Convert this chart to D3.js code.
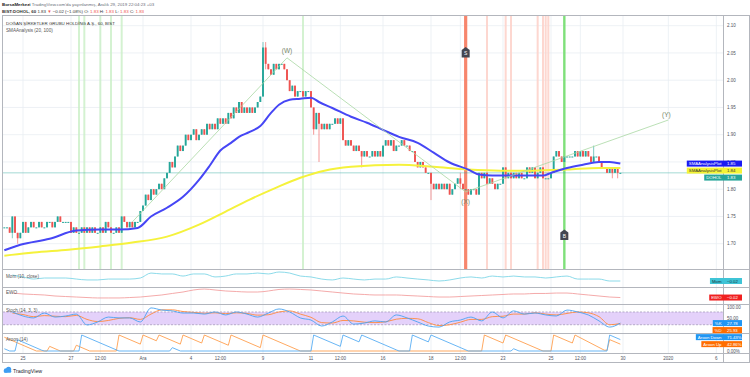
<!DOCTYPE html>
<html>
<head>
<meta charset="utf-8">
<script src="https://cdn.jsdelivr.net/npm/d3@7"></script>
<style>
  body { margin: 0; background: #fff; }
  svg { display: block; font-family: "Liberation Sans", Arial, sans-serif; }
</style>
</head>
<body>
<div id="chart"></div>
<script>
//BIST:DOHOL 60 min closes, 22 Nov - 27 Dec 2019 (9 bars a session)
const firstOpen = 1.73;
const closes = [
  1.73, 1.73, 1.72, 1.75, 1.72, 1.71, 1.72,                 // 22 Nov
  1.74, 1.72, 1.73, 1.74, 1.73, 1.73, 1.74, 1.73, 1.73,     // 25
  1.74, 1.74, 1.73, 1.74, 1.75, 1.74, 1.74, 1.74, 1.74,     // 26
  1.72, 1.73, 1.72, 1.72, 1.73, 1.72, 1.73, 1.72, 1.73,     // 27
  1.72, 1.72, 1.73, 1.72, 1.74, 1.73, 1.72, 1.72, 1.73,     // 28
  1.72, 1.75, 1.74, 1.73, 1.74, 1.73, 1.74, 1.74, 1.76,     // 29
  1.77, 1.79, 1.78, 1.80, 1.79, 1.80, 1.81, 1.80, 1.82,     // 2 Dec
  1.83, 1.85, 1.84, 1.86, 1.88, 1.87, 1.88, 1.90, 1.89,     // 3
  1.90, 1.91, 1.89, 1.90, 1.91, 1.90, 1.92, 1.91, 1.92,     // 4
  1.91, 1.93, 1.92, 1.93, 1.92, 1.94, 1.93, 1.95, 1.94,     // 5
  1.96, 1.94, 1.95, 1.94, 1.95, 1.94, 1.95, 1.96, 1.97,     // 6
  2.06, 2.03, 2.02, 2.01, 2.03, 2.02, 2.03, 2.03, 2.02,     // 9
  2.00, 1.98, 1.99, 1.97, 1.98, 1.98, 1.97, 1.98, 1.98,     // 10
  1.95, 1.91, 1.94, 1.92, 1.91, 1.92, 1.91, 1.92, 1.92,     // 11
  1.93, 1.92, 1.93, 1.89, 1.88, 1.89, 1.88, 1.87, 1.88,     // 12
  1.87, 1.86, 1.87, 1.86, 1.86, 1.87, 1.86, 1.87, 1.86,     // 13
  1.88, 1.89, 1.88, 1.89, 1.87, 1.88, 1.88, 1.89, 1.88,     // 16
  1.88, 1.87, 1.87, 1.85, 1.84, 1.85, 1.84, 1.83, 1.83,     // 17
  1.81, 1.80, 1.81, 1.80, 1.81, 1.80, 1.81, 1.79, 1.80,     // 18
  1.81, 1.82, 1.81, 1.80, 1.80, 1.79, 1.80, 1.80, 1.79,     // 19
  1.83, 1.82, 1.83, 1.81, 1.82, 1.81, 1.80, 1.81, 1.81,     // 20
  1.84, 1.82, 1.83, 1.82, 1.83, 1.82, 1.83, 1.82, 1.82,     // 23
  1.84, 1.83, 1.84, 1.82, 1.83, 1.84, 1.82, 1.82, 1.82,     // 24
  1.83, 1.86, 1.87, 1.86, 1.85, 1.86, 1.86, 1.86, 1.86,     // 25
  1.87, 1.86, 1.87, 1.86, 1.87, 1.86, 1.85, 1.86, 1.86,     // 26
  1.85, 1.84, 1.84, 1.83, 1.84, 1.83, 1.84, 1.83, 1.83      // 27
];

//bars with visible wicks
const wickBars  = [3, 5, 97, 98, 116, 118, 134, 160, 171, 221, 228, 230];
const wickHighs = [1.75, 1.72, 2.07, 2.07, 1.95, 1.94, 1.87, 1.83, 1.83, 1.88, 1.84, 1.84];
const wickLows  = [1.71, 1.70, 1.97, 2.02, 1.90, 1.85, 1.84, 1.78, 1.80, 1.85, 1.82, 1.82];

//SMAAnalysis (20, 100)
const smaFastBars = [0, 6, 17, 27, 36, 43, 50, 55, 61, 67, 73, 77, 81, 85, 88, 92, 96, 100, 103, 107, 111, 115, 118, 123, 130, 136, 142, 148, 155, 161, 167, 174, 178, 183, 190, 196, 202, 205, 211, 217, 223, 227, 231];
const smaFastVals = [1.688, 1.698, 1.709, 1.724, 1.726, 1.726, 1.729, 1.750, 1.766, 1.786, 1.817, 1.843, 1.871, 1.885, 1.896, 1.905, 1.916, 1.940, 1.955, 1.964, 1.966, 1.968, 1.960, 1.949, 1.933, 1.922, 1.909, 1.896, 1.885, 1.867, 1.849, 1.836, 1.827, 1.825, 1.825, 1.825, 1.825, 1.830, 1.839, 1.845, 1.850, 1.850, 1.847];
const smaSlowBars = [0, 11, 24, 36, 48, 61, 73, 83, 92, 102, 111, 120, 130, 148, 161, 174, 186, 198, 211, 223, 231];
const smaSlowVals = [1.678, 1.684, 1.689, 1.695, 1.702, 1.713, 1.735, 1.759, 1.781, 1.803, 1.821, 1.834, 1.841, 1.845, 1.841, 1.836, 1.834, 1.834, 1.836, 1.839, 1.839];

//background highlights (bar index)
const softGreenBars = [28, 30, 36, 40, 44, 112];
const softRedBars = [181, 188, 190, 200, 202, 203, 204];
const strongRedBar = 173;
const strongGreenBar = 210;
const markerBars = [173, 210];
const markerPrices = [2.051, 1.716];

//elliott wave drawing
const waveBars = [48, 106, 173, 249];
const wavePrices = [1.74, 2.041, 1.795, 1.927];
const waveLabels = ["", "(W)", "(X)", "(Y)"];

//x axis
const tickLabels = ["25", "27", "12:00", "Ara", "4", "12:00", "9", "11", "12:00", "16", "18", "12:00", "23", "25", "12:00", "30", "2020", "6"];
const tickBars = [7, 25, 36, 52, 70, 81, 97, 115, 126, 142, 160, 171, 187, 205, 216, 232, 249, 267];
const priceTicks = [1.70, 1.75, 1.80, 1.85, 1.90, 1.95, 2.00, 2.05, 2.10];

//oscillators, sampled every 4 bars from bar 3
const oscStart = 3, oscStep = 4;
const momVals = [0.020, 0.007, -0.007, 0, 0, 0, -0.007, -0.013, -0.013, -0.007, -0.007, -0.007, 0, 0.033, 0.027, 0.027, 0.013, 0.027, 0.027, 0.007, 0.013, 0.027, 0.027, 0.033, 0.027, 0.040, 0.033, 0.013, 0.007, -0.007, -0.013, 0, -0.007, -0.013, -0.007, -0.007, 0.007, 0, -0.007, -0.013, -0.020, -0.013, 0, 0.007, 0, 0.013, 0.007, 0.013, 0.007, 0.007, 0, 0.007, 0.013, -0.007, -0.007, -0.007, -0.020, -0.020];
const ewoVals = [0.029, 0.018, 0.012, 0.006, -0.006, -0.012, -0.018, -0.024, -0.029, -0.029, -0.029, -0.024, -0.018, -0.006, 0.006, 0.024, 0.041, 0.065, 0.076, 0.065, 0.053, 0.047, 0.041, 0.041, 0.053, 0.071, 0.076, 0.071, 0.065, 0.053, 0.041, 0.029, 0.018, 0.012, 0.006, 0.006, 0.006, 0, -0.006, -0.012, -0.018, -0.018, -0.012, -0.006, 0, 0.006, 0.012, 0.018, 0.018, 0.024, 0.024, 0.029, 0.029, 0.018, 0.006, -0.006, -0.018, -0.024];
const stochK = [80, 61, 52, 75, 56, 61, 70, 19, 33, 56, 52, 52, 33, 99, 89, 85, 75, 75, 70, 80, 66, 80, 70, 56, 75, 94, 80, 52, 42, 14, 33, 61, 23, 28, 38, 33, 66, 52, 33, 14, 9, 33, 42, 56, 38, 80, 52, 85, 70, 75, 66, 61, 89, 80, 66, 38, 9, 27.78];
const stochD = [75, 68, 58, 63, 60, 58, 64, 45, 35, 40, 50, 53, 45, 70, 90, 90, 82, 78, 74, 76, 72, 76, 73, 65, 67, 80, 85, 70, 55, 30, 28, 40, 38, 32, 30, 34, 46, 50, 48, 30, 16, 20, 32, 45, 45, 58, 60, 70, 70, 76, 70, 66, 73, 80, 76, 58, 20, 25.93];

//aroon (14) breakpoints
const aroonUpBars = [0, 12, 16, 17, 21, 26, 27, 32, 42, 43, 51, 52, 57, 58, 66, 67, 74, 75, 84, 85, 96, 97, 111, 179, 180, 187, 188, 201, 202, 205, 206, 213, 214, 225, 226, 227, 231];
const aroonUpVals = [86, 0, 0, 29, 0, 0, 36, 0, 0, 100, 43, 100, 64, 100, 43, 100, 50, 100, 36, 100, 21, 100, 0, 0, 100, 50, 100, 7, 0, 0, 100, 50, 100, 5, 5, 71, 42.86];
const aroonDownBars = [0, 2, 4, 5, 14, 15, 28, 29, 42, 43, 62, 63, 66, 115, 116, 126, 127, 133, 134, 147, 148, 152, 153, 159, 160, 174, 190, 191, 193, 226, 227, 231];
const aroonDownVals = [14, 0, 0, 70, 5, 0, 0, 100, 7, 0, 0, 21, 0, 0, 100, 29, 100, 57, 100, 7, 0, 0, 100, 57, 100, 0, 0, 14, 0, 0, 100, 71.43];

//right-side value tags
const priceTagNames = ["SMAAnalysisPlot", "SMAAnalysisPlot", "DOHOL"];
const priceTagVals = [1.847, 1.839, 1.83];
const priceTagText = ["1.85", "1.84", "1.83"];
const priceTagBg = ["#1b1bf2", "#f4f436", "#26a69a"];
const priceTagFg = ["#fff", "#333", "#fff"];

const green = "#26a69a", red = "#ef5350";

const svg = d3.select("#chart").append("svg")
    .attr("width", 750)
    .attr("height", 377);

const left = 3, axisX = 723.5, right = 749.5;
const mainTop = 16, mainBot = 269, momBot = 287, ewoBot = 304, stBot = 333, arBot = 353, frameBot = 362.5;

const x = d3.scaleLinear().domain([-0.5, 269.5]).range([left, 723]);
const bw = x(1) - x(0);
const y = d3.scaleLinear().domain([1.70, 2.10]).range([243.7, 25.7]);
const yMom = d3.scaleLinear().domain([-0.06, 0.06]).range([287, 269]);
const yEwo = d3.scaleLinear().domain([-0.1, 0.1]).range([304, 287]);
const ySt = d3.scaleLinear().domain([0, 100]).range([329, 307.7]);
const yAr = d3.scaleLinear().domain([0, 100]).range([351, 335]);

//clip each pane
const defs = svg.append("defs");
function clip(id, y0, y1) {
    defs.append("clipPath").attr("id", id)
        .append("rect").attr("x", left).attr("y", y0).attr("width", axisX - left).attr("height", y1 - y0);
    return "url(#" + id + ")";
}
const cMain = clip("cmain", mainTop, mainBot);
const cMom = clip("cmom", mainBot, momBot);
const cEwo = clip("cewo", momBot, ewoBot);
const cSt = clip("cst", ewoBot, stBot);
const cAr = clip("car", stBot, arBot);

//grid
const grid = svg.append("g");
grid.selectAll("line.gv").data(tickBars).join("line").attr("class", "gv")
    .attr("x1", d => x(d)).attr("x2", d => x(d))
    .attr("y1", mainTop).attr("y2", arBot)
    .attr("stroke", "#e9edf3").attr("stroke-width", 0.8);
grid.selectAll("line.gh").data(priceTicks).join("line").attr("class", "gh")
    .attr("x1", left).attr("x2", axisX)
    .attr("y1", d => y(d)).attr("y2", d => y(d))
    .attr("stroke", "#e9edf3").attr("stroke-width", 0.8);

//main pane
const main = svg.append("g").attr("clip-path", cMain);

main.selectAll("rect.sg").data(softGreenBars).join("rect").attr("class", "sg")
    .attr("x", d => x(d) - 1).attr("width", 2)
    .attr("y", mainTop).attr("height", mainBot - mainTop)
    .attr("fill", "#c9efc6").attr("opacity", 0.8);
main.selectAll("rect.sr").data(softRedBars).join("rect").attr("class", "sr")
    .attr("x", d => x(d) - 1).attr("width", 2)
    .attr("y", mainTop).attr("height", mainBot - mainTop)
    .attr("fill", "#fdd3cb").attr("opacity", 0.9);
main.append("rect")
    .attr("x", x(strongRedBar) - 1.6).attr("width", 3.2)
    .attr("y", mainTop).attr("height", mainBot - mainTop)
    .attr("fill", "#f7866d");
main.append("rect")
    .attr("x", x(strongGreenBar) - 1.2).attr("width", 2.4)
    .attr("y", mainTop).attr("height", mainBot - mainTop)
    .attr("fill", "#7fe07a");

//last price line
main.append("line")
    .attr("x1", left).attr("x2", axisX)
    .attr("y1", y(closes[closes.length - 1])).attr("y2", y(closes[closes.length - 1]))
    .attr("stroke", green).attr("stroke-width", 0.7).attr("opacity", 0.6);

//candles
const candles = closes.map((c, i) => {
    const o = i === 0 ? firstOpen : closes[i - 1];
    const k = wickBars.indexOf(i);
    return {
        i: i, o: o, c: c,
        h: k >= 0 ? wickHighs[k] : Math.max(o, c),
        l: k >= 0 ? wickLows[k] : Math.min(o, c)
    };
});
const cg = main.append("g");
cg.selectAll("line").data(candles).join("line")
    .attr("x1", d => x(d.i)).attr("x2", d => x(d.i))
    .attr("y1", d => y(d.h)).attr("y2", d => y(d.l))
    .attr("stroke", d => d.c < d.o ? red : green).attr("stroke-width", 0.6);
cg.selectAll("rect").data(candles).join("rect")
    .attr("x", d => x(d.i) - bw * 0.36).attr("width", bw * 0.72)
    .attr("y", d => y(Math.max(d.o, d.c)))
    .attr("height", d => Math.max(1, Math.abs(y(d.o) - y(d.c))))
    .attr("fill", d => d.c < d.o ? red : green);

//SMA lines
const smaLine = d3.line().curve(d3.curveMonotoneX);
main.append("path")
    .attr("d", smaLine(smaSlowBars.map((b, i) => [x(b), y(smaSlowVals[i])])))
    .attr("fill", "none").attr("stroke", "#f5f23c").attr("stroke-width", 2);
main.append("path")
    .attr("d", smaLine(smaFastBars.map((b, i) => [x(b), y(smaFastVals[i])])))
    .attr("fill", "none").attr("stroke", "#4646f5").attr("stroke-width", 2);

//wave lines and labels
main.append("path")
    .attr("d", d3.line()(waveBars.map((b, i) => [x(b), y(wavePrices[i])])))
    .attr("fill", "none").attr("stroke", "#a9d8a3").attr("stroke-width", 0.8);
const waveDy = [0, -5, 12, -3];
main.selectAll("text.wave").data(waveBars).join("text").attr("class", "wave")
    .attr("x", (d, i) => x(d) - (i === 3 ? 2 : 0))
    .attr("y", (d, i) => y(wavePrices[i]) + waveDy[i])
    .attr("text-anchor", "middle")
    .attr("font-size", 6.5).attr("fill", "#76876a")
    .text((d, i) => waveLabels[i]);

//signal markers
markerBars.forEach((b, i) => {
    const cx = x(b), cy = y(markerPrices[i]);
    main.append("path")
        .attr("d", `M${cx - 4},${cy - 2.5} L${cx},${cy - 5.5} L${cx + 4},${cy - 2.5} L${cx + 4},${cy + 5} L${cx - 4},${cy + 5} Z`)
        .attr("fill", "#434651");
    main.append("text")
        .attr("x", cx).attr("y", cy + 3)
        .attr("text-anchor", "middle").attr("font-size", 5).attr("fill", "#fff")
        .text(i === 0 ? "S" : "B");
});

//oscillator lines
const oscBars = momVals.map((v, i) => oscStart + i * oscStep);
const osc = d3.line().curve(d3.curveMonotoneX);

svg.append("path").attr("clip-path", cMom)
    .attr("d", osc(oscBars.map((b, i) => [x(b), yMom(momVals[i])])))
    .attr("fill", "none").attr("stroke", "#7fd6e6").attr("stroke-width", 0.9);

svg.append("path").attr("clip-path", cEwo)
    .attr("d", osc(oscBars.map((b, i) => [x(b), yEwo(ewoVals[i])])))
    .attr("fill", "none").attr("stroke", "#f3a0a0").attr("stroke-width", 0.9);

const st = svg.append("g").attr("clip-path", cSt);
st.append("rect")
    .attr("x", left).attr("width", axisX - left)
    .attr("y", ySt(80)).attr("height", ySt(20) - ySt(80))
    .attr("fill", "#e4d1fa");
st.selectAll("line").data([80, 20]).join("line")
    .attr("x1", left).attr("x2", axisX)
    .attr("y1", d => ySt(d)).attr("y2", d => ySt(d))
    .attr("stroke", "#8e84a6").attr("stroke-width", 0.6).attr("stroke-dasharray", "2,1.5");
st.append("path")
    .attr("d", osc(oscBars.map((b, i) => [x(b), ySt(stochD[i])])))
    .attr("fill", "none").attr("stroke", "#ff8a3d").attr("stroke-width", 0.9);
st.append("path")
    .attr("d", osc(oscBars.map((b, i) => [x(b), ySt(stochK[i])])))
    .attr("fill", "none").attr("stroke", "#4aa3f0").attr("stroke-width", 0.9);

const ar = svg.append("g").attr("clip-path", cAr);
ar.append("path")
    .attr("d", d3.line()(aroonUpBars.map((b, i) => [x(b), yAr(aroonUpVals[i])])))
    .attr("fill", "none").attr("stroke", "#ff9f4f").attr("stroke-width", 0.9);
ar.append("path")
    .attr("d", d3.line()(aroonDownBars.map((b, i) => [x(b), yAr(aroonDownVals[i])])))
    .attr("fill", "none").attr("stroke", "#58aef4").attr("stroke-width", 0.9);

//frame and separators
const frame = svg.append("g").attr("stroke", "#b3b6bd").attr("stroke-width", 1);
frame.append("rect").attr("x", 2.5).attr("y", 15.5).attr("width", right - 2.5).attr("height", frameBot - 15.5).attr("fill", "none");
frame.selectAll("line.sep").data([mainBot, momBot, ewoBot, stBot, arBot]).join("line").attr("class", "sep")
    .attr("x1", 2.5).attr("x2", right).attr("y1", d => d + 0.5).attr("y2", d => d + 0.5);
frame.append("line").attr("x1", axisX).attr("x2", axisX).attr("y1", 15.5).attr("y2", frameBot);

//axis labels
const axisFont = 4.5, axisColor = "#50535e";
svg.selectAll("text.xt").data(tickBars).join("text").attr("class", "xt")
    .attr("x", d => x(d)).attr("y", 359.5)
    .attr("text-anchor", "middle").attr("font-size", axisFont).attr("fill", axisColor)
    .text((d, i) => tickLabels[i]);
svg.selectAll("text.yt").data(priceTicks).join("text").attr("class", "yt")
    .attr("x", 727).attr("y", d => y(d) + 1.6)
    .attr("font-size", axisFont).attr("fill", axisColor)
    .text(d => d.toFixed(2));
svg.selectAll("text.st").data([100, 50]).join("text").attr("class", "st")
    .attr("x", 727).attr("y", d => ySt(d) + 1.6)
    .attr("font-size", axisFont).attr("fill", axisColor)
    .text(d => d.toFixed(2));
svg.append("text").attr("x", 727).attr("y", yAr(0) + 1.6)
    .attr("font-size", axisFont).attr("fill", axisColor).text("0.00%");

//value tags on the right axis
function tag(yc, name, value, bg, fg) {
    const g = svg.append("g");
    const t = g.append("text").attr("font-size", 4.3).attr("fill", fg)
        .attr("y", yc + 1.5).text(name);
    const w = t.node().getComputedTextLength();
    t.attr("x", axisX - 2 - w);
    g.insert("rect", "text")
        .attr("x", axisX - 4 - w).attr("y", yc - 3)
        .attr("width", 742 - (axisX - 4 - w)).attr("height", 6)
        .attr("fill", bg);
    g.append("text").attr("font-size", 4.3).attr("fill", fg)
        .attr("x", 727).attr("y", yc + 1.5).text(value);
}
function stackDown(ys, gap) {
    const out = ys.slice();
    for (let i = 1; i < out.length; i++) out[i] = Math.max(out[i], out[i - 1] + gap);
    return out;
}
function stackUp(ys, gap) {
    const out = ys.slice();
    for (let i = out.length - 2; i >= 0; i--) out[i] = Math.min(out[i], out[i + 1] - gap);
    return out;
}
stackDown(priceTagVals.map(v => y(v)), 7).forEach((yc, i) =>
    tag(yc, priceTagNames[i], priceTagText[i], priceTagBg[i], priceTagFg[i]));

tag(yMom(momVals[momVals.length - 1]), "Mom", "\u22120.02", "#3fc4d6", "#1c3a40");
tag(yEwo(ewoVals[ewoVals.length - 1]), "EWO", "\u22120.02", "#f02020", "#fff");
const stY = stackDown([ySt(stochK[stochK.length - 1]), ySt(stochD[stochD.length - 1])], 7);
tag(stY[0], "%K", stochK[stochK.length - 1].toFixed(2), "#2196f3", "#fff");
tag(stY[1], "%D", stochD[stochD.length - 1].toFixed(2), "#ff6d00", "#fff");
const arY = stackUp([yAr(aroonDownVals[aroonDownVals.length - 1]), yAr(aroonUpVals[aroonUpVals.length - 1])], 7);
tag(arY[0], "Aroon Down", aroonDownVals[aroonDownVals.length - 1].toFixed(2) + "%", "#2196f3", "#fff");
tag(arY[1], "Aroon Up", aroonUpVals[aroonUpVals.length - 1].toFixed(2) + "%", "#ff6d00", "#fff");

//pane legends
const legend = svg.append("g").attr("font-size", 4.6).attr("fill", "#555");
legend.append("text").attr("x", 6).attr("y", 25).attr("fill", "#333")
    .attr("font-size", 4.4)
    .text("DOĞAN ŞİRKETLER GRUBU HOLDİNG A.Ş., 60, BIST");
legend.append("text").attr("x", 6).attr("y", 31.5)
    .text("SMAAnalysis (20, 100)");
legend.append("text").attr("x", 6).attr("y", 277.5).text("Mom (10, close)");
legend.append("text").attr("x", 6).attr("y", 294).text("EWO");
legend.append("text").attr("x", 6).attr("y", 311.5).text("Stoch (14, 3, 3)");
legend.append("text").attr("x", 6).attr("y", 340.5).text("Aroon (14)");

//header
const head = svg.append("g").attr("font-size", 4.4).attr("fill", "#6a6d78");
const h1 = head.append("text").attr("x", 2).attr("y", 6);
h1.append("tspan").attr("font-weight", "bold").attr("fill", "#222").text("BorsaMerkezi");
h1.append("tspan").text(" TradingView.com'da yayınlanmış, Aralık 29, 2019 22:04:23 +03");
const h2 = head.append("text").attr("x", 2).attr("y", 12.5).attr("fill", "#333");
h2.append("tspan").attr("font-weight", "bold").text("BIST:DOHOL, 60 ");
h2.append("tspan").text("1.83 ");
h2.append("tspan").attr("fill", red).text("\u25BC");
h2.append("tspan").text(" \u22120.02 (\u22121.08%) O: ");
h2.append("tspan").attr("fill", red).text("1.83");
h2.append("tspan").text(" H: ");
h2.append("tspan").attr("fill", red).text("1.83");
h2.append("tspan").text(" L: ");
h2.append("tspan").attr("fill", red).text("1.83");
h2.append("tspan").text(" C: ");
h2.append("tspan").attr("fill", red).text("1.83");

//TradingView logo
const logo = svg.append("g").attr("fill", "#3d9df2");
logo.append("circle").attr("cx", 6).attr("cy", 370.5).attr("r", 2.2);
logo.append("circle").attr("cx", 8.6).attr("cy", 369.3).attr("r", 2.6);
logo.append("rect").attr("x", 3.8).attr("y", 370).attr("width", 7.5).attr("height", 2.7).attr("rx", 1.2);
svg.append("text").attr("x", 13).attr("y", 372.5)
    .attr("font-size", 5.3).attr("fill", "#1e222d")
    .text("TradingView");
</script>
</body>
</html>
